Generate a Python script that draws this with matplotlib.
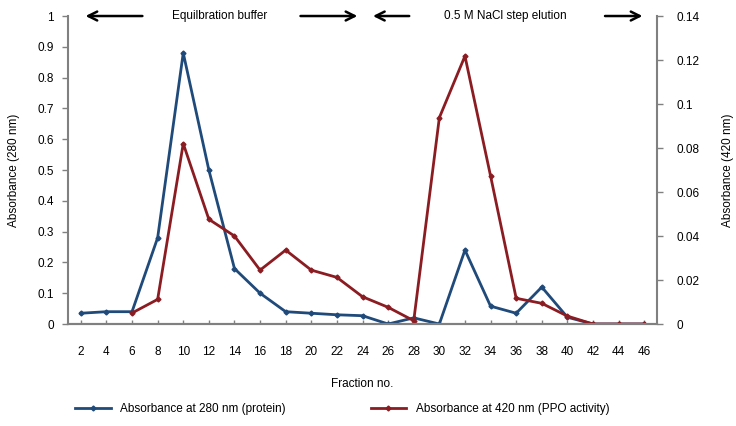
import numpy as np
import matplotlib.pyplot as plt

plt.rcParams['font.family'] = ['Liberation Sans', 'DejaVu Sans']

# fraction numbers
fractions = list(range(2, 48, 2))

# absorbance at 280 nm (protein), left axis
abs280 = [0.035, 0.04, 0.04, 0.28, 0.88, 0.50, 0.18, 0.10, 0.04, 0.035, 0.03, 0.027,
          0.0, 0.02, 0.0, 0.24, 0.058, 0.035, 0.12, 0.022, 0.0, 0.0, 0.0]

# absorbance at 420 nm (PPO activity), right axis, starts at fraction 6
frac420 = list(range(6, 48, 2))
abs420 = [0.005, 0.0112, 0.082, 0.0476, 0.040, 0.0245, 0.0336, 0.0245, 0.0212, 0.0124,
          0.0076, 0.0015, 0.0938, 0.1218, 0.0673, 0.0117, 0.0094, 0.0036, 0.0, 0.0, 0.0]

left_ticks = [0, 0.1, 0.2, 0.3, 0.4, 0.5, 0.6, 0.7, 0.8, 0.9, 1]
left_labels = ['0', '0.1', '0.2', '0.3', '0.4', '0.5', '0.6', '0.7', '0.8', '0.9', '1']
right_ticks = [0, 0.02, 0.04, 0.06, 0.08, 0.1, 0.12, 0.14]
right_labels = ['0', '0.02', '0.04', '0.06', '0.08', '0.1', '0.12', '0.14']

blue = '#1f4a7a'
red = '#8b1c22'
grey = '#808080'
fs = 8.5

fig = plt.figure(figsize=(7.36, 4.26), dpi=100)
ax = fig.add_axes([0.0924, 0.2394, 0.8003, 0.723])
ax2 = ax.twinx()

l1, = ax.plot(fractions, abs280, color=blue, lw=2, marker='D', ms=2.5, label='Absorbance at 280 nm (protein)')
l2, = ax2.plot(frac420, abs420, color=red, lw=2, marker='D', ms=2.5, label='Absorbance at 420 nm (PPO activity)')

ax.set_xlim(1, 47)
ax.set_ylim(0, 1)
ax2.set_ylim(0, 0.14)

ax.set_yticks(left_ticks)
ax.set_yticklabels(left_labels, fontsize=fs)
ax2.set_yticks(right_ticks)
ax2.set_yticklabels(right_labels, fontsize=fs)
ax.set_xticks(fractions)
ax.set_xticklabels([str(f) for f in fractions], fontsize=fs)

for a in (ax, ax2):
    for s in a.spines.values():
        s.set_color(grey)
        s.set_linewidth(1.5)
    a.spines['top'].set_visible(False)
ax2.spines['left'].set_visible(False)
ax.spines['right'].set_visible(False)

ax.tick_params(axis='y', color=grey, length=4, width=1, pad=6)
ax2.tick_params(axis='y', color=grey, length=4, width=1, pad=10)
ax.tick_params(axis='x', direction='in', color=grey, length=3, width=1, pad=16)

ax.set_xlabel('Fraction no.', fontsize=fs)
ax.xaxis.set_label_coords(0.5, -0.175)
ax.set_ylabel('Absorbance (280 nm)', fontsize=fs)
ax.yaxis.set_label_coords(-0.081, 0.5)
ax2.set_ylabel('Absorbance (420 nm)', fontsize=fs)
ax2.yaxis.set_label_coords(1.11, 0.5)

# buffer arrows along the top
arrow_kw = dict(arrowstyle='->', color='black', lw=1.8, mutation_scale=16)
for x0, x1 in [(0.131, 0.025), (0.39, 0.496), (0.584, 0.513), (0.907, 0.98)]:
    ax.annotate('', xy=(x1, 1.0), xytext=(x0, 1.0), xycoords='axes fraction',
                arrowprops=arrow_kw, annotation_clip=False)
ax.text(0.258, 1.0, 'Equilbration buffer', transform=ax.transAxes, ha='center', va='center', fontsize=fs)
ax.text(0.742, 1.0, '0.5 M NaCl step elution', transform=ax.transAxes, ha='center', va='center', fontsize=fs)

fig.legend(handles=[l1, l2], loc='center', bbox_to_anchor=(0.465, 0.04), ncol=2, frameon=False,
           fontsize=fs, handlelength=3, columnspacing=7.2)

fig.savefig('out.png', dpi=100)
